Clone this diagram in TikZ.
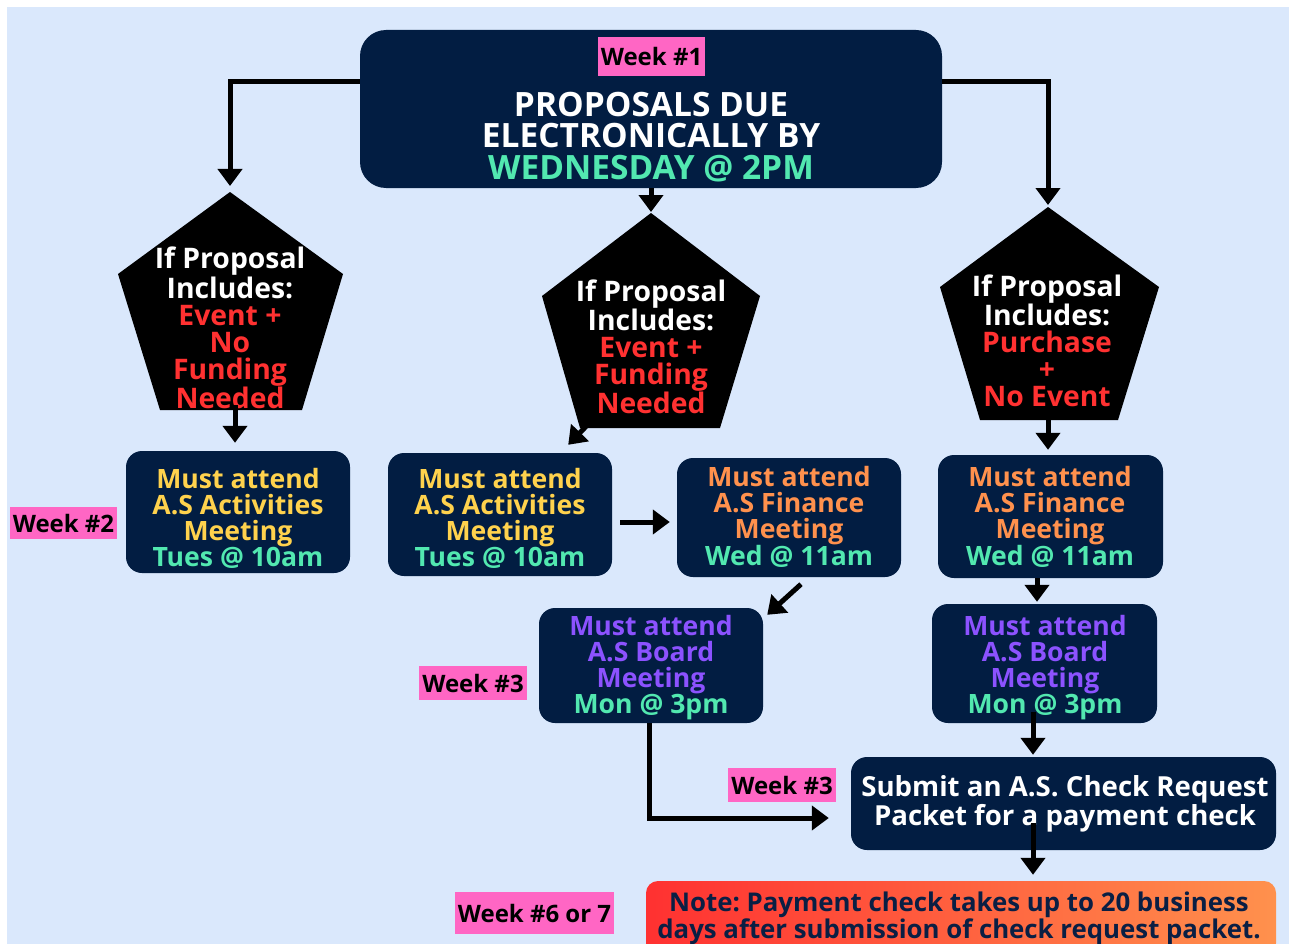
\documentclass[tikz,border=0pt]{standalone}
\usepackage{fontspec}
\setmainfont{Open Sans}
\usetikzlibrary{arrows.meta}
\definecolor{bg}{HTML}{DAE8FC}
\definecolor{navy}{HTML}{021D42}
\definecolor{pinkl}{HTML}{FF66C4}
\definecolor{ylw}{HTML}{FFD24D}
\definecolor{org}{HTML}{FF914D}
\definecolor{prp}{HTML}{8C52FF}
\definecolor{grn}{HTML}{52E8B0}
\definecolor{redt}{HTML}{FF3131}
\definecolor{notel}{HTML}{FF3131}
\definecolor{noter}{HTML}{FF914D}
\definecolor{notetxt}{HTML}{0A1F44}
\tikzset{
  navybox/.style={fill=navy, rounded corners=16pt, inner sep=0pt},
  boxtxt/.style={font=\fontsize{26.6}{26}\selectfont\bfseries, align=center, inner sep=0pt},
  pentxt/.style={font=\fontsize{28.3}{27}\selectfont\bfseries, align=center, inner sep=0pt, text=white},
  weeklbl/.style={fill=pinkl, inner sep=0pt, font=\fontsize{24}{24}\selectfont\bfseries, text=black},
  arr/.style={line width=5pt, -{Triangle[length=17pt,width=24pt]}},
}
\begin{document}
\frenchspacing
\begin{tikzpicture}[x=1pt,y=-1pt]
\useasboundingbox (0,0) rectangle (1289,944);
\clip (0,0) rectangle (1289,944);
\fill[white] (0,0) rectangle (1289,944);
\fill[bg] (7,7) rectangle (1289,944);

% main box
\node[navybox, rounded corners=26pt, minimum width=582pt, minimum height=158pt] (main) at (651,109) {};
\node[weeklbl, minimum width=107pt, minimum height=39pt] (w1) at (651.5,56.5) {Week \#1};
\node[font=\fontsize{33.5}{31.5}\selectfont\bfseries, align=center, inner sep=0pt, text=white] (title) at (651,137)
  {PROPOSALS DUE\\ELECTRONICALLY BY\\\textcolor{grn}{WEDNESDAY @ 2PM}};

% pentagons
\coordinate (p1t) at (230,192); \coordinate (p1r) at (343,274); \coordinate (p1br) at (302,410);
\coordinate (p1bl) at (160,410); \coordinate (p1l) at (118,274);
\coordinate (p2t) at (651,213); \coordinate (p2r) at (760,296); \coordinate (p2br) at (720,428);
\coordinate (p2bl) at (580,428); \coordinate (p2l) at (542,296);
\coordinate (p3t) at (1048,207); \coordinate (p3r) at (1159,287); \coordinate (p3br) at (1118,420);
\coordinate (p3bl) at (980,420); \coordinate (p3l) at (940,287);
\fill[black] (p1t) -- (p1r) -- (p1br) -- (p1bl) -- (p1l) -- cycle;
\fill[black] (p2t) -- (p2r) -- (p2br) -- (p2bl) -- (p2l) -- cycle;
\fill[black] (p3t) -- (p3r) -- (p3br) -- (p3bl) -- (p3l) -- cycle;
\node[pentxt] (p1txt) at (230,328) {If Proposal\\Includes:\\\textcolor{redt}{Event +}\\\textcolor{redt}{No}\\\textcolor{redt}{Funding}\\\textcolor{redt}{Needed}};
\node[pentxt] (p2txt) at (651,347) {If Proposal\\Includes:\\\textcolor{redt}{Event +}\\\textcolor{redt}{Funding}\\\textcolor{redt}{Needed}};
\node[pentxt] (p3txt) at (1047,341) {If Proposal\\Includes:\\\textcolor{redt}{Purchase}\\\textcolor{redt}{+}\\\textcolor{redt}{No Event}};

% boxes
\node[navybox, minimum width=224pt, minimum height=122pt] (a) at (238,512) {};
\node[navybox, minimum width=224pt, minimum height=123pt] (b) at (500,514.5) {};
\node[navybox, minimum width=224pt, minimum height=119pt] (c) at (789,517.5) {};
\node[navybox, minimum width=225pt, minimum height=123pt] (d) at (1050.5,516.5) {};
\node[navybox, minimum width=224pt, minimum height=115pt] (e) at (651,665.5) {};
\node[navybox, minimum width=225pt, minimum height=119pt] (f) at (1044.5,663.5) {};
\node[navybox, minimum width=425pt, minimum height=93pt] (g) at (1063.5,803.5) {};
\node[rounded corners=12pt, left color=notel, right color=noter, inner sep=0pt, minimum width=630pt, minimum height=74pt] (h) at (961,918) {};

\node[boxtxt, text=ylw] (at) at (238,518) {Must attend\\A.S Activities\\Meeting\\\textcolor{grn}{Tues @ 10am}};
\node[boxtxt, text=ylw] (bt) at (500,518) {Must attend\\A.S Activities\\Meeting\\\textcolor{grn}{Tues @ 10am}};
\node[boxtxt, text=org] (ct) at (789,517) {Must attend\\A.S Finance\\Meeting\\\textcolor{grn}{Wed @ 11am}};
\node[boxtxt, text=org] (dt) at (1050,517) {Must attend\\A.S Finance\\Meeting\\\textcolor{grn}{Wed @ 11am}};
\node[boxtxt, text=prp] (et) at (651,668) {Must attend\\A.S Board\\Meeting\\\textcolor{grn}{Mon @ 3pm}};
\node[boxtxt, text=prp] (ft) at (1045,668) {Must attend\\A.S Board\\Meeting\\\textcolor{grn}{Mon @ 3pm}};
\node[font=\fontsize{27.6}{27}\selectfont\bfseries, align=center, inner sep=0pt, text=white] (gt) at (1065,804)
  {Submit an A.S. Check Request\\Packet for a payment check};
\node[font=\fontsize{25.8}{25}\selectfont\bfseries, align=center, inner sep=0pt, text=notetxt] (ht) at (959,918.5)
  {Note: Payment check takes up to 20 business\\days after submission of check request packet.};

% week labels
\node[weeklbl, minimum width=107pt, minimum height=32pt] (w2) at (63.5,523) {Week \#2};
\node[weeklbl, minimum width=108pt, minimum height=34pt] (w3a) at (473,683) {Week \#3};
\node[weeklbl, minimum width=108pt, minimum height=34pt] (w3b) at (782,785) {Week \#3};
\node[weeklbl, minimum width=159pt, minimum height=42pt] (w67) at (534.5,913) {Week \#6 or 7};

% connectors
\draw[arr, shorten >=6pt] ([yshift=27pt]main.west) -| (p1t);
\draw[arr, shorten >=2pt] ([yshift=27pt]main.east) -| (p3t);
\draw[arr, shorten >=1pt] (main.south) -- (p2t);
\coordinate (p1b) at (235,405);
\draw[arr, shorten >=8pt] (p1b) -- (p1b |- a.north);
\coordinate (p2o) at (598,414);
\draw[arr] (p2o) -- ([xshift=-44pt,yshift=8pt]b.north east);
\coordinate (p3b) at (1048,415);
\draw[arr, shorten >=5pt] (p3b) -- (p3b |- d.north);
\draw[arr] ([xshift=8pt,yshift=-7.5pt]b.east) -- ([xshift=-7pt,yshift=-4.5pt]c.west);
\draw[arr] ([xshift=12pt,yshift=-7pt]c.south) -- ([xshift=4pt,yshift=-7pt]e.north east);
\draw[arr, shorten >=2pt] ([xshift=-13.5pt]d.south) -- ([xshift=-13.5pt]d.south |- f.north);
\draw[arr, shorten >=2pt] ([xshift=-30.5pt,yshift=45pt]g.north) -- ([xshift=-30.5pt]g.north);
\draw[arr, shorten >=6pt] ([xshift=-30.5pt,yshift=-66pt]g.north) -- ([xshift=-30.5pt]g.north |- h.north);
\draw[arr, shorten >=22pt] ([xshift=-2pt]e.south) |- ([yshift=-14.5pt]g.west);
\end{tikzpicture}
\end{document}
